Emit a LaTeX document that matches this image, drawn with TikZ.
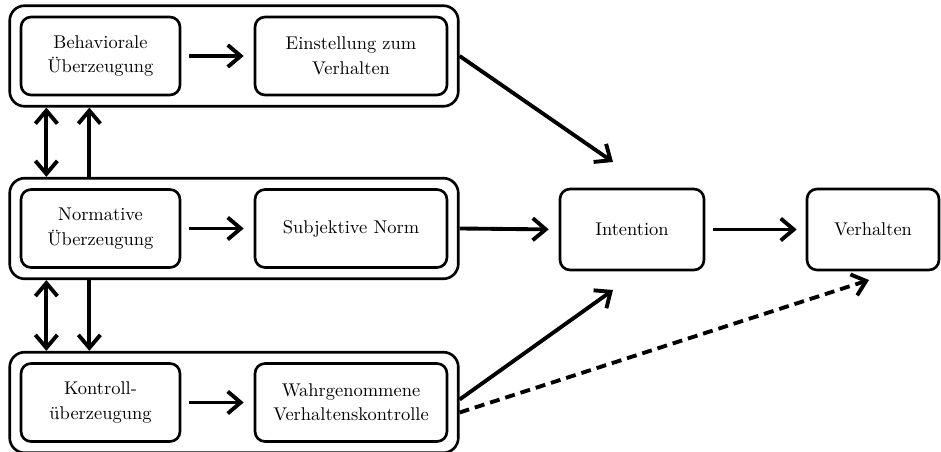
\documentclass[tikz,border=0pt]{standalone}
\usepackage{fontspec}
\usetikzlibrary{arrows.meta,fit}
\begin{document}
\begin{tikzpicture}[x=0.02cm, y=-0.02cm,
		box/.style={draw, line width=1.5pt, rounded corners=0.2cm, align=center, minimum height=1.56cm, font=\fontsize{10.5}{14}\selectfont},
		outer/.style={draw, line width=1.5pt, rounded corners=0.3cm, inner sep=0.2cm},
		pfeil/.style={line width=2.2pt, -{Straight Barb[length=0.26cm, width=0.44cm]}},
		dpfeil/.style={line width=2.2pt, {Straight Barb[length=0.26cm, width=0.44cm]}-{Straight Barb[length=0.26cm, width=0.44cm]}}
		]
	\useasboundingbox (0,0) rectangle (941,452);
	\node [box, minimum width=3.18cm] (bu) at (100.5,56) {Behaviorale\\Überzeugung};
	\node [box, minimum width=3.84cm] (ev) at (351,56) {Einstellung zum\\Verhalten};
	\node [box, minimum width=3.18cm] (nu) at (100.5,228.5) {Normative\\Überzeugung};
	\node [box, minimum width=3.84cm] (sn) at (351,228.5) {Subjektive Norm};
	\node [box, minimum width=3.18cm] (ku) at (100.5,402.5) {Kontroll-\\überzeugung};
	\node [box, minimum width=3.84cm] (wv) at (351,402.5) {Wahrgenommene\\Verhaltenskontrolle};
	\node [outer, fit=(bu)(ev)] (oa) {};
	\node [outer, fit=(nu)(sn)] (ob) {};
	\node [outer, fit=(ku)(wv)] (oc) {};
	\node [box, minimum width=2.88cm, minimum height=1.62cm] (int) at (632,229.5) {Intention};
	\node [box, minimum width=2.64cm, minimum height=1.62cm] (ver) at (873,229.5) {Verhalten};
	\coordinate (intTop) at (613,162);
	\coordinate (intBot) at (613,290);
	\coordinate (verBot) at (869,280);
	\draw [pfeil, shorten <=0.16cm, shorten >=0.2cm] (bu) -- (ev);
	\draw [pfeil, shorten <=0.16cm, shorten >=0.2cm] (nu) -- (sn);
	\draw [pfeil, shorten <=0.16cm, shorten >=0.2cm] (ku) -- (wv);
	\draw [dpfeil] ([xshift=0.76cm]oa.south west) -- ([xshift=0.76cm]ob.north west);
	\draw [pfeil] ([xshift=1.62cm]ob.north west) -- ([xshift=1.62cm]oa.south west);
	\draw [dpfeil] ([xshift=0.76cm]ob.south west) -- ([xshift=0.76cm]oc.north west);
	\draw [pfeil] ([xshift=1.62cm]ob.south west) -- ([xshift=1.62cm]oc.north west);
	\draw [pfeil] (oa.east) -- (intTop);
	\draw [pfeil, shorten >=0.2cm] (ob.east) -- (int.west);
	\draw [pfeil, shorten <=0.16cm, shorten >=0.18cm] (int) -- (ver);
	\draw [pfeil] ([yshift=0.06cm]oc.east) -- (intBot);
	\draw [pfeil, dash pattern=on 0.2cm off 0.12cm] ([yshift=-0.2cm]oc.east) -- (verBot);
\end{tikzpicture}
\end{document}
